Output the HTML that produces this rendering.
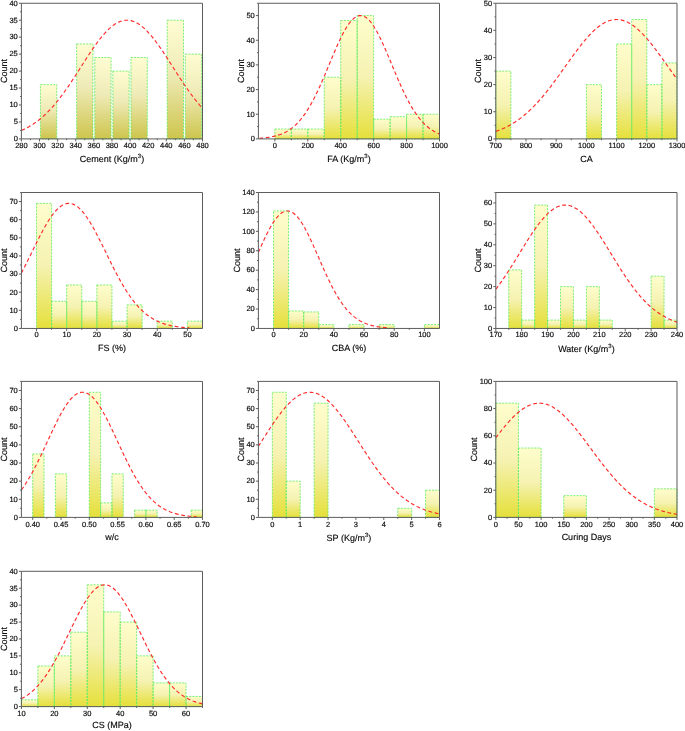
<!DOCTYPE html>
<html><head><meta charset="utf-8"><style>
html,body{margin:0;padding:0;background:#fff;}
svg{display:block;text-rendering:geometricPrecision;will-change:transform;}
.t{font-family:"Liberation Sans",sans-serif;font-size:7.5px;fill:#000000;stroke:#222;stroke-width:0.18px;}
.ti{font-family:"Liberation Sans",sans-serif;font-size:9.0px;fill:#000000;stroke:#222;stroke-width:0.15px;}
</style></head><body>
<svg width="685" height="731" viewBox="0 0 685 731">
<defs><linearGradient id="gy" x1="0" y1="0" x2="0" y2="1">
<stop offset="0" stop-color="#fffdcc"/><stop offset="0.5" stop-color="#f5f2b2"/><stop offset="1" stop-color="#e5e03a"/></linearGradient><linearGradient id="go" x1="0" y1="0" x2="0" y2="1">
<stop offset="0" stop-color="#fffdd2"/><stop offset="0.45" stop-color="#efebb8"/><stop offset="1" stop-color="#cdc54c"/></linearGradient></defs>
<rect width="685" height="731" fill="#fff"/>
<g><rect x="40.42" y="84.64" width="16.30" height="54.26" fill="url(#go)"/><rect x="76.64" y="43.95" width="16.30" height="94.95" fill="url(#go)"/><rect x="94.75" y="57.51" width="16.30" height="81.39" fill="url(#go)"/><rect x="112.86" y="71.08" width="16.30" height="67.83" fill="url(#go)"/><rect x="130.97" y="57.51" width="16.30" height="81.39" fill="url(#go)"/><rect x="167.19" y="20.21" width="16.30" height="118.69" fill="url(#go)"/><rect x="185.30" y="54.12" width="16.30" height="84.78" fill="url(#go)"/><rect x="40.42" y="84.64" width="16.30" height="54.26" fill="none" stroke="#5aec5a" stroke-width="0.8" stroke-dasharray="2 1.2"/><rect x="76.64" y="43.95" width="16.30" height="94.95" fill="none" stroke="#5aec5a" stroke-width="0.8" stroke-dasharray="2 1.2"/><rect x="94.75" y="57.51" width="16.30" height="81.39" fill="none" stroke="#5aec5a" stroke-width="0.8" stroke-dasharray="2 1.2"/><rect x="112.86" y="71.08" width="16.30" height="67.83" fill="none" stroke="#5aec5a" stroke-width="0.8" stroke-dasharray="2 1.2"/><rect x="130.97" y="57.51" width="16.30" height="81.39" fill="none" stroke="#5aec5a" stroke-width="0.8" stroke-dasharray="2 1.2"/><rect x="167.19" y="20.21" width="16.30" height="118.69" fill="none" stroke="#5aec5a" stroke-width="0.8" stroke-dasharray="2 1.2"/><rect x="185.30" y="54.12" width="16.30" height="84.78" fill="none" stroke="#5aec5a" stroke-width="0.8" stroke-dasharray="2 1.2"/><polyline points="21.40,130.43 22.31,130.04 23.21,129.63 24.12,129.21 25.02,128.78 25.93,128.33 26.83,127.86 27.74,127.38 28.64,126.88 29.55,126.36 30.45,125.83 31.36,125.28 32.27,124.71 33.17,124.13 34.08,123.52 34.98,122.90 35.89,122.26 36.79,121.60 37.70,120.92 38.60,120.22 39.51,119.50 40.42,118.76 41.32,118.01 42.23,117.23 43.13,116.43 44.04,115.61 44.94,114.77 45.85,113.91 46.75,113.03 47.66,112.13 48.56,111.21 49.47,110.27 50.38,109.30 51.28,108.32 52.19,107.32 53.09,106.29 54.00,105.25 54.90,104.19 55.81,103.10 56.71,102.00 57.62,100.88 58.53,99.74 59.43,98.58 60.34,97.40 61.24,96.20 62.15,94.99 63.05,93.76 63.96,92.51 64.86,91.25 65.77,89.98 66.67,88.68 67.58,87.38 68.49,86.06 69.39,84.73 70.30,83.38 71.20,82.03 72.11,80.66 73.01,79.28 73.92,77.90 74.82,76.51 75.73,75.11 76.64,73.70 77.54,72.29 78.45,70.88 79.35,69.46 80.26,68.04 81.16,66.62 82.07,65.20 82.97,63.79 83.88,62.37 84.78,60.96 85.69,59.55 86.60,58.15 87.50,56.76 88.41,55.37 89.31,53.99 90.22,52.63 91.12,51.28 92.03,49.94 92.93,48.61 93.84,47.30 94.75,46.01 95.65,44.74 96.56,43.48 97.46,42.25 98.37,41.04 99.27,39.85 100.18,38.69 101.08,37.55 101.99,36.44 102.90,35.36 103.80,34.31 104.71,33.29 105.61,32.30 106.52,31.34 107.42,30.41 108.33,29.52 109.23,28.67 110.14,27.85 111.04,27.07 111.95,26.33 112.86,25.63 113.76,24.96 114.67,24.34 115.57,23.76 116.48,23.22 117.38,22.72 118.29,22.27 119.19,21.86 120.10,21.50 121.00,21.18 121.91,20.90 122.82,20.67 123.72,20.49 124.63,20.35 125.53,20.26 126.44,20.21 127.34,20.21 128.25,20.26 129.15,20.35 130.06,20.49 130.97,20.67 131.87,20.90 132.78,21.18 133.68,21.50 134.59,21.86 135.49,22.27 136.40,22.72 137.30,23.22 138.21,23.76 139.12,24.34 140.02,24.96 140.93,25.63 141.83,26.33 142.74,27.07 143.64,27.85 144.55,28.67 145.45,29.52 146.36,30.41 147.26,31.34 148.17,32.30 149.08,33.29 149.98,34.31 150.89,35.36 151.79,36.44 152.70,37.55 153.60,38.69 154.51,39.85 155.41,41.04 156.32,42.25 157.22,43.48 158.13,44.74 159.04,46.01 159.94,47.30 160.85,48.61 161.75,49.94 162.66,51.28 163.56,52.63 164.47,53.99 165.37,55.37 166.28,56.76 167.19,58.15 168.09,59.55 169.00,60.96 169.90,62.37 170.81,63.79 171.71,65.20 172.62,66.62 173.52,68.04 174.43,69.46 175.34,70.88 176.24,72.29 177.15,73.70 178.05,75.11 178.96,76.51 179.86,77.90 180.77,79.28 181.67,80.66 182.58,82.03 183.48,83.38 184.39,84.73 185.30,86.06 186.20,87.38 187.11,88.68 188.01,89.98 188.92,91.25 189.82,92.51 190.73,93.76 191.63,94.99 192.54,96.20 193.44,97.40 194.35,98.58 195.26,99.74 196.16,100.88 197.07,102.00 197.97,103.10 198.88,104.19 199.78,105.25 200.69,106.29 201.59,107.32 202.50,108.32" fill="none" stroke="#ff2a2a" stroke-width="1.15" stroke-dasharray="3.8 2.6"/><path d="M21.40 3.25H202.50V138.90" fill="none" stroke="#5c5c5c" stroke-width="1"/><path d="M21.40 3.25V138.90H202.50" fill="none" stroke="#5c5c5c" stroke-width="1"/><path d="M21.40 138.90v2.5M39.51 138.90v2.5M57.62 138.90v2.5M75.73 138.90v2.5M93.84 138.90v2.5M111.95 138.90v2.5M130.06 138.90v2.5M148.17 138.90v2.5M166.28 138.90v2.5M184.39 138.90v2.5M202.50 138.90v2.5M30.45 138.90v1.3M48.56 138.90v1.3M66.67 138.90v1.3M84.78 138.90v1.3M102.90 138.90v1.3M121.00 138.90v1.3M139.12 138.90v1.3M157.22 138.90v1.3M175.34 138.90v1.3M193.44 138.90v1.3M21.40 138.90h-2.5M21.40 121.94h-2.5M21.40 104.99h-2.5M21.40 88.03h-2.5M21.40 71.08h-2.5M21.40 54.12h-2.5M21.40 37.16h-2.5M21.40 20.21h-2.5M21.40 3.25h-2.5M21.40 130.42h-1.3M21.40 113.47h-1.3M21.40 96.51h-1.3M21.40 79.55h-1.3M21.40 62.60h-1.3M21.40 45.64h-1.3M21.40 28.68h-1.3M21.40 11.73h-1.3" stroke="#5c5c5c" stroke-width="1"/><text x="21.40" y="147.90" text-anchor="middle" class="t">280</text><text x="39.51" y="147.90" text-anchor="middle" class="t">300</text><text x="57.62" y="147.90" text-anchor="middle" class="t">320</text><text x="75.73" y="147.90" text-anchor="middle" class="t">340</text><text x="93.84" y="147.90" text-anchor="middle" class="t">360</text><text x="111.95" y="147.90" text-anchor="middle" class="t">380</text><text x="130.06" y="147.90" text-anchor="middle" class="t">400</text><text x="148.17" y="147.90" text-anchor="middle" class="t">420</text><text x="166.28" y="147.90" text-anchor="middle" class="t">440</text><text x="184.39" y="147.90" text-anchor="middle" class="t">460</text><text x="202.50" y="147.90" text-anchor="middle" class="t">480</text><text x="17.80" y="141.20" text-anchor="end" class="t">0</text><text x="17.80" y="124.24" text-anchor="end" class="t">5</text><text x="17.80" y="107.29" text-anchor="end" class="t">10</text><text x="17.80" y="90.33" text-anchor="end" class="t">15</text><text x="17.80" y="73.38" text-anchor="end" class="t">20</text><text x="17.80" y="56.42" text-anchor="end" class="t">25</text><text x="17.80" y="39.46" text-anchor="end" class="t">30</text><text x="17.80" y="22.51" text-anchor="end" class="t">35</text><text x="17.80" y="5.55" text-anchor="end" class="t">40</text><text x="6.70" y="71.08" text-anchor="middle" class="ti" transform="rotate(-90 6.70 71.08)">Count</text><text x="111.95" y="162.40" text-anchor="middle" class="ti">Cement (Kg/m<tspan font-size="6" dy="-4.0">3</tspan><tspan dy="4.0">)</tspan></text></g>
<g><rect x="274.86" y="129.03" width="16.46" height="9.87" fill="url(#gy)"/><rect x="291.33" y="129.03" width="16.46" height="9.87" fill="url(#gy)"/><rect x="307.79" y="129.03" width="16.46" height="9.87" fill="url(#gy)"/><rect x="324.25" y="77.24" width="16.46" height="61.66" fill="url(#gy)"/><rect x="340.72" y="20.51" width="16.46" height="118.39" fill="url(#gy)"/><rect x="357.18" y="15.58" width="16.46" height="123.32" fill="url(#gy)"/><rect x="373.65" y="119.17" width="16.46" height="19.73" fill="url(#gy)"/><rect x="390.11" y="116.70" width="16.46" height="22.20" fill="url(#gy)"/><rect x="406.57" y="114.24" width="16.46" height="24.66" fill="url(#gy)"/><rect x="423.04" y="114.24" width="16.46" height="24.66" fill="url(#gy)"/><rect x="274.86" y="129.03" width="16.46" height="9.87" fill="none" stroke="#5aec5a" stroke-width="0.8" stroke-dasharray="2 1.2"/><rect x="291.33" y="129.03" width="16.46" height="9.87" fill="none" stroke="#5aec5a" stroke-width="0.8" stroke-dasharray="2 1.2"/><rect x="307.79" y="129.03" width="16.46" height="9.87" fill="none" stroke="#5aec5a" stroke-width="0.8" stroke-dasharray="2 1.2"/><rect x="324.25" y="77.24" width="16.46" height="61.66" fill="none" stroke="#5aec5a" stroke-width="0.8" stroke-dasharray="2 1.2"/><rect x="340.72" y="20.51" width="16.46" height="118.39" fill="none" stroke="#5aec5a" stroke-width="0.8" stroke-dasharray="2 1.2"/><rect x="357.18" y="15.58" width="16.46" height="123.32" fill="none" stroke="#5aec5a" stroke-width="0.8" stroke-dasharray="2 1.2"/><rect x="373.65" y="119.17" width="16.46" height="19.73" fill="none" stroke="#5aec5a" stroke-width="0.8" stroke-dasharray="2 1.2"/><rect x="390.11" y="116.70" width="16.46" height="22.20" fill="none" stroke="#5aec5a" stroke-width="0.8" stroke-dasharray="2 1.2"/><rect x="406.57" y="114.24" width="16.46" height="24.66" fill="none" stroke="#5aec5a" stroke-width="0.8" stroke-dasharray="2 1.2"/><rect x="423.04" y="114.24" width="16.46" height="24.66" fill="none" stroke="#5aec5a" stroke-width="0.8" stroke-dasharray="2 1.2"/><polyline points="259.35,138.27 260.25,138.21 261.15,138.14 262.05,138.07 262.95,137.99 263.85,137.91 264.75,137.81 265.65,137.71 266.55,137.60 267.45,137.49 268.35,137.36 269.26,137.22 270.16,137.07 271.06,136.91 271.96,136.74 272.86,136.56 273.76,136.36 274.66,136.15 275.56,135.92 276.46,135.68 277.36,135.42 278.26,135.14 279.16,134.84 280.06,134.53 280.97,134.19 281.87,133.83 282.77,133.45 283.67,133.04 284.57,132.61 285.47,132.15 286.37,131.67 287.27,131.15 288.17,130.61 289.07,130.04 289.97,129.43 290.87,128.79 291.77,128.12 292.68,127.42 293.58,126.67 294.48,125.89 295.38,125.08 296.28,124.22 297.18,123.32 298.08,122.38 298.98,121.40 299.88,120.38 300.78,119.32 301.68,118.21 302.58,117.05 303.48,115.85 304.38,114.61 305.29,113.32 306.19,111.98 307.09,110.60 307.99,109.17 308.89,107.70 309.79,106.18 310.69,104.61 311.59,103.00 312.49,101.34 313.39,99.65 314.29,97.91 315.19,96.12 316.09,94.30 317.00,92.44 317.90,90.54 318.80,88.61 319.70,86.65 320.60,84.65 321.50,82.62 322.40,80.57 323.30,78.49 324.20,76.39 325.10,74.27 326.00,72.14 326.90,69.99 327.80,67.83 328.71,65.67 329.61,63.51 330.51,61.34 331.41,59.18 332.31,57.03 333.21,54.89 334.11,52.77 335.01,50.67 335.91,48.59 336.81,46.55 337.71,44.53 338.61,42.55 339.51,40.61 340.42,38.72 341.32,36.87 342.22,35.08 343.12,33.35 344.02,31.68 344.92,30.07 345.82,28.53 346.72,27.06 347.62,25.67 348.52,24.35 349.42,23.12 350.32,21.97 351.22,20.91 352.13,19.94 353.03,19.06 353.93,18.28 354.83,17.60 355.73,17.01 356.63,16.52 357.53,16.13 358.43,15.85 359.33,15.66 360.23,15.59 361.13,15.61 362.03,15.74 362.93,15.97 363.84,16.30 364.74,16.73 365.64,17.27 366.54,17.90 367.44,18.63 368.34,19.46 369.24,20.38 370.14,21.39 371.04,22.49 371.94,23.68 372.84,24.95 373.74,26.30 374.64,27.73 375.55,29.23 376.45,30.80 377.35,32.44 378.25,34.14 379.15,35.90 380.05,37.72 380.95,39.59 381.85,41.50 382.75,43.46 383.65,45.46 384.55,47.49 385.45,49.55 386.35,51.64 387.26,53.75 388.16,55.88 389.06,58.03 389.96,60.18 390.86,62.34 391.76,64.51 392.66,66.67 393.56,68.83 394.46,70.99 395.36,73.13 396.26,75.25 397.16,77.36 398.06,79.45 398.97,81.52 399.87,83.56 400.77,85.58 401.67,87.56 402.57,89.51 403.47,91.43 404.37,93.31 405.27,95.15 406.17,96.95 407.07,98.72 407.97,100.44 408.87,102.12 409.77,103.75 410.68,105.34 411.58,106.88 412.48,108.38 413.38,109.84 414.28,111.24 415.18,112.61 416.08,113.92 416.98,115.19 417.88,116.41 418.78,117.59 419.68,118.73 420.58,119.81 421.48,120.86 422.39,121.86 423.29,122.82 424.19,123.74 425.09,124.62 425.99,125.46 426.89,126.26 427.79,127.02 428.69,127.75 429.59,128.44 430.49,129.09 431.39,129.72 432.29,130.31 433.19,130.86 434.10,131.39 435.00,131.89 435.90,132.37 436.80,132.81 437.70,133.23 438.60,133.63 439.50,134.00" fill="none" stroke="#ff2a2a" stroke-width="1.15" stroke-dasharray="3.8 2.6"/><path d="M258.40 3.25H439.50V138.90" fill="none" stroke="#5c5c5c" stroke-width="1"/><path d="M258.40 3.25V138.90H439.50" fill="none" stroke="#5c5c5c" stroke-width="1"/><path d="M274.86 138.90v2.5M307.79 138.90v2.5M340.72 138.90v2.5M373.65 138.90v2.5M406.57 138.90v2.5M439.50 138.90v2.5M291.33 138.90v1.3M324.25 138.90v1.3M357.18 138.90v1.3M390.11 138.90v1.3M423.04 138.90v1.3M258.40 138.90h-2.5M258.40 114.24h-2.5M258.40 89.57h-2.5M258.40 64.91h-2.5M258.40 40.25h-2.5M258.40 15.58h-2.5M258.40 126.57h-1.3M258.40 101.90h-1.3M258.40 77.24h-1.3M258.40 52.58h-1.3M258.40 27.91h-1.3M258.40 3.25h-1.3" stroke="#5c5c5c" stroke-width="1"/><text x="274.86" y="147.90" text-anchor="middle" class="t">0</text><text x="307.79" y="147.90" text-anchor="middle" class="t">200</text><text x="340.72" y="147.90" text-anchor="middle" class="t">400</text><text x="373.65" y="147.90" text-anchor="middle" class="t">600</text><text x="406.57" y="147.90" text-anchor="middle" class="t">800</text><text x="439.50" y="147.90" text-anchor="middle" class="t">1000</text><text x="254.80" y="141.20" text-anchor="end" class="t">0</text><text x="254.80" y="116.54" text-anchor="end" class="t">10</text><text x="254.80" y="91.87" text-anchor="end" class="t">20</text><text x="254.80" y="67.21" text-anchor="end" class="t">30</text><text x="254.80" y="42.55" text-anchor="end" class="t">40</text><text x="254.80" y="17.88" text-anchor="end" class="t">50</text><text x="243.70" y="71.08" text-anchor="middle" class="ti" transform="rotate(-90 243.70 71.08)">Count</text><text x="348.95" y="162.40" text-anchor="middle" class="ti">FA (Kg/m<tspan font-size="6" dy="-4.0">3</tspan><tspan dy="4.0">)</tspan></text></g>
<g><rect x="495.80" y="71.08" width="15.10" height="67.83" fill="url(#gy)"/><rect x="586.40" y="84.64" width="15.10" height="54.26" fill="url(#gy)"/><rect x="616.60" y="43.95" width="15.10" height="94.95" fill="url(#gy)"/><rect x="631.70" y="19.53" width="15.10" height="119.37" fill="url(#gy)"/><rect x="646.80" y="84.64" width="15.10" height="54.26" fill="url(#gy)"/><rect x="661.90" y="62.94" width="15.10" height="75.96" fill="url(#gy)"/><rect x="495.80" y="71.08" width="15.10" height="67.83" fill="none" stroke="#5aec5a" stroke-width="0.8" stroke-dasharray="2 1.2"/><rect x="586.40" y="84.64" width="15.10" height="54.26" fill="none" stroke="#5aec5a" stroke-width="0.8" stroke-dasharray="2 1.2"/><rect x="616.60" y="43.95" width="15.10" height="94.95" fill="none" stroke="#5aec5a" stroke-width="0.8" stroke-dasharray="2 1.2"/><rect x="631.70" y="19.53" width="15.10" height="119.37" fill="none" stroke="#5aec5a" stroke-width="0.8" stroke-dasharray="2 1.2"/><rect x="646.80" y="84.64" width="15.10" height="54.26" fill="none" stroke="#5aec5a" stroke-width="0.8" stroke-dasharray="2 1.2"/><rect x="661.90" y="62.94" width="15.10" height="75.96" fill="none" stroke="#5aec5a" stroke-width="0.8" stroke-dasharray="2 1.2"/><polyline points="495.80,131.41 496.71,131.09 497.61,130.76 498.52,130.42 499.42,130.07 500.33,129.71 501.24,129.34 502.14,128.95 503.05,128.56 503.95,128.15 504.86,127.72 505.77,127.29 506.67,126.84 507.58,126.38 508.48,125.90 509.39,125.41 510.30,124.91 511.20,124.39 512.11,123.86 513.01,123.31 513.92,122.74 514.83,122.17 515.73,121.57 516.64,120.97 517.54,120.34 518.45,119.70 519.36,119.05 520.26,118.37 521.17,117.69 522.07,116.98 522.98,116.26 523.89,115.53 524.79,114.77 525.70,114.00 526.60,113.22 527.51,112.41 528.42,111.59 529.32,110.76 530.23,109.91 531.13,109.04 532.04,108.15 532.95,107.25 533.85,106.33 534.76,105.40 535.66,104.45 536.57,103.48 537.48,102.50 538.38,101.50 539.29,100.49 540.19,99.46 541.10,98.42 542.01,97.36 542.91,96.28 543.82,95.20 544.72,94.10 545.63,92.98 546.54,91.86 547.44,90.72 548.35,89.57 549.25,88.40 550.16,87.23 551.07,86.04 551.97,84.85 552.88,83.64 553.78,82.43 554.69,81.21 555.60,79.97 556.50,78.73 557.41,77.49 558.31,76.24 559.22,74.98 560.13,73.71 561.03,72.45 561.94,71.18 562.84,69.90 563.75,68.63 564.66,67.35 565.56,66.07 566.47,64.79 567.37,63.52 568.28,62.24 569.19,60.97 570.09,59.70 571.00,58.44 571.90,57.18 572.81,55.93 573.72,54.68 574.62,53.45 575.53,52.22 576.43,51.00 577.34,49.79 578.25,48.59 579.15,47.41 580.06,46.24 580.96,45.08 581.87,43.94 582.78,42.82 583.68,41.71 584.59,40.62 585.49,39.55 586.40,38.49 587.31,37.46 588.21,36.45 589.12,35.46 590.02,34.50 590.93,33.55 591.84,32.64 592.74,31.75 593.65,30.88 594.55,30.04 595.46,29.23 596.37,28.45 597.27,27.69 598.18,26.97 599.08,26.28 599.99,25.61 600.90,24.98 601.80,24.39 602.71,23.82 603.61,23.29 604.52,22.79 605.43,22.32 606.33,21.89 607.24,21.50 608.14,21.14 609.05,20.81 609.96,20.52 610.86,20.27 611.77,20.06 612.67,19.88 613.58,19.73 614.49,19.63 615.39,19.56 616.30,19.53 617.20,19.54 618.11,19.58 619.02,19.66 619.92,19.78 620.83,19.93 621.73,20.12 622.64,20.35 623.55,20.62 624.45,20.92 625.36,21.25 626.26,21.62 627.17,22.03 628.08,22.47 628.98,22.95 629.89,23.46 630.79,24.00 631.70,24.58 632.61,25.19 633.51,25.83 634.42,26.50 635.32,27.21 636.23,27.94 637.14,28.71 638.04,29.50 638.95,30.32 639.85,31.17 640.76,32.04 641.67,32.94 642.57,33.87 643.48,34.82 644.38,35.79 645.29,36.78 646.20,37.80 647.10,38.84 648.01,39.90 648.91,40.98 649.82,42.08 650.73,43.19 651.63,44.32 652.54,45.47 653.44,46.63 654.35,47.80 655.26,48.99 656.16,50.19 657.07,51.40 657.97,52.63 658.88,53.86 659.79,55.10 660.69,56.35 661.60,57.60 662.50,58.86 663.41,60.13 664.32,61.40 665.22,62.67 666.13,63.94 667.03,65.22 667.94,66.50 668.85,67.77 669.75,69.05 670.66,70.33 671.56,71.60 672.47,72.87 673.38,74.14 674.28,75.40 675.19,76.65 676.09,77.90 677.00,79.15" fill="none" stroke="#ff2a2a" stroke-width="1.15" stroke-dasharray="3.8 2.6"/><path d="M495.80 3.25H677.00V138.90" fill="none" stroke="#5c5c5c" stroke-width="1"/><path d="M495.80 3.25V138.90H677.00" fill="none" stroke="#5c5c5c" stroke-width="1"/><path d="M495.80 138.90v2.5M526.00 138.90v2.5M556.20 138.90v2.5M586.40 138.90v2.5M616.60 138.90v2.5M646.80 138.90v2.5M677.00 138.90v2.5M510.90 138.90v1.3M541.10 138.90v1.3M571.30 138.90v1.3M601.50 138.90v1.3M631.70 138.90v1.3M661.90 138.90v1.3M495.80 138.90h-2.5M495.80 111.77h-2.5M495.80 84.64h-2.5M495.80 57.51h-2.5M495.80 30.38h-2.5M495.80 3.25h-2.5M495.80 125.34h-1.3M495.80 98.21h-1.3M495.80 71.08h-1.3M495.80 43.95h-1.3M495.80 16.81h-1.3" stroke="#5c5c5c" stroke-width="1"/><text x="495.80" y="147.90" text-anchor="middle" class="t">700</text><text x="526.00" y="147.90" text-anchor="middle" class="t">800</text><text x="556.20" y="147.90" text-anchor="middle" class="t">900</text><text x="586.40" y="147.90" text-anchor="middle" class="t">1000</text><text x="616.60" y="147.90" text-anchor="middle" class="t">1100</text><text x="646.80" y="147.90" text-anchor="middle" class="t">1200</text><text x="677.00" y="147.90" text-anchor="middle" class="t">1300</text><text x="492.20" y="141.20" text-anchor="end" class="t">0</text><text x="492.20" y="114.07" text-anchor="end" class="t">10</text><text x="492.20" y="86.94" text-anchor="end" class="t">20</text><text x="492.20" y="59.81" text-anchor="end" class="t">30</text><text x="492.20" y="32.68" text-anchor="end" class="t">40</text><text x="492.20" y="5.55" text-anchor="end" class="t">50</text><text x="481.10" y="71.08" text-anchor="middle" class="ti" transform="rotate(-90 481.10 71.08)">Count</text><text x="586.40" y="161.60" text-anchor="middle" class="ti">CA</text></g>
<g><rect x="36.49" y="203.38" width="15.09" height="125.07" fill="url(#gy)"/><rect x="51.58" y="301.26" width="15.09" height="27.19" fill="url(#gy)"/><rect x="66.67" y="284.95" width="15.09" height="43.50" fill="url(#gy)"/><rect x="81.77" y="301.26" width="15.09" height="27.19" fill="url(#gy)"/><rect x="96.86" y="284.95" width="15.09" height="43.50" fill="url(#gy)"/><rect x="111.95" y="321.20" width="15.09" height="7.25" fill="url(#gy)"/><rect x="127.04" y="304.89" width="15.09" height="23.56" fill="url(#gy)"/><rect x="157.22" y="321.20" width="15.09" height="7.25" fill="url(#gy)"/><rect x="187.41" y="321.20" width="15.09" height="7.25" fill="url(#gy)"/><rect x="36.49" y="203.38" width="15.09" height="125.07" fill="none" stroke="#5aec5a" stroke-width="0.8" stroke-dasharray="2 1.2"/><rect x="51.58" y="301.26" width="15.09" height="27.19" fill="none" stroke="#5aec5a" stroke-width="0.8" stroke-dasharray="2 1.2"/><rect x="66.67" y="284.95" width="15.09" height="43.50" fill="none" stroke="#5aec5a" stroke-width="0.8" stroke-dasharray="2 1.2"/><rect x="81.77" y="301.26" width="15.09" height="27.19" fill="none" stroke="#5aec5a" stroke-width="0.8" stroke-dasharray="2 1.2"/><rect x="96.86" y="284.95" width="15.09" height="43.50" fill="none" stroke="#5aec5a" stroke-width="0.8" stroke-dasharray="2 1.2"/><rect x="111.95" y="321.20" width="15.09" height="7.25" fill="none" stroke="#5aec5a" stroke-width="0.8" stroke-dasharray="2 1.2"/><rect x="127.04" y="304.89" width="15.09" height="23.56" fill="none" stroke="#5aec5a" stroke-width="0.8" stroke-dasharray="2 1.2"/><rect x="157.22" y="321.20" width="15.09" height="7.25" fill="none" stroke="#5aec5a" stroke-width="0.8" stroke-dasharray="2 1.2"/><rect x="187.41" y="321.20" width="15.09" height="7.25" fill="none" stroke="#5aec5a" stroke-width="0.8" stroke-dasharray="2 1.2"/><polyline points="21.40,273.07 22.24,271.46 23.08,269.83 23.92,268.19 24.76,266.54 25.60,264.87 26.44,263.19 27.28,261.50 28.12,259.80 28.96,258.10 29.80,256.39 30.64,254.67 31.48,252.96 32.32,251.24 33.16,249.52 34.00,247.81 34.84,246.10 35.68,244.40 36.52,242.71 37.36,241.03 38.20,239.36 39.04,237.71 39.89,236.07 40.73,234.46 41.57,232.86 42.41,231.28 43.25,229.73 44.09,228.21 44.93,226.72 45.77,225.25 46.61,223.82 47.45,222.42 48.29,221.06 49.13,219.74 49.97,218.46 50.81,217.22 51.65,216.02 52.49,214.87 53.33,213.76 54.17,212.71 55.01,211.70 55.85,210.75 56.69,209.84 57.53,209.00 58.37,208.20 59.21,207.47 60.05,206.79 60.89,206.17 61.73,205.62 62.57,205.12 63.41,204.68 64.25,204.31 65.09,203.99 65.93,203.75 66.77,203.56 67.61,203.44 68.45,203.38 69.29,203.39 70.13,203.46 70.97,203.59 71.81,203.79 72.65,204.05 73.49,204.38 74.33,204.76 75.17,205.21 76.01,205.72 76.86,206.29 77.70,206.92 78.54,207.61 79.38,208.36 80.22,209.16 81.06,210.02 81.90,210.93 82.74,211.90 83.58,212.92 84.42,213.98 85.26,215.10 86.10,216.26 86.94,217.46 87.78,218.71 88.62,220.00 89.46,221.33 90.30,222.70 91.14,224.11 91.98,225.55 92.82,227.02 93.66,228.52 94.50,230.05 95.34,231.60 96.18,233.18 97.02,234.78 97.86,236.40 98.70,238.04 99.54,239.70 100.38,241.37 101.22,243.05 102.06,244.75 102.90,246.45 103.74,248.16 104.58,249.87 105.42,251.59 106.26,253.30 107.10,255.02 107.94,256.73 108.78,258.44 109.62,260.15 110.46,261.84 111.30,263.53 112.14,265.21 112.98,266.87 113.83,268.53 114.67,270.16 115.51,271.79 116.35,273.39 117.19,274.98 118.03,276.55 118.87,278.09 119.71,279.62 120.55,281.12 121.39,282.61 122.23,284.06 123.07,285.50 123.91,286.91 124.75,288.29 125.59,289.65 126.43,290.98 127.27,292.28 128.11,293.56 128.95,294.80 129.79,296.02 130.63,297.21 131.47,298.38 132.31,299.51 133.15,300.62 133.99,301.70 134.83,302.75 135.67,303.77 136.51,304.76 137.35,305.72 138.19,306.66 139.03,307.57 139.87,308.45 140.71,309.30 141.55,310.13 142.39,310.93 143.23,311.70 144.07,312.45 144.91,313.17 145.75,313.87 146.59,314.54 147.43,315.19 148.27,315.81 149.11,316.41 149.95,316.99 150.80,317.54 151.64,318.08 152.48,318.59 153.32,319.09 154.16,319.56 155.00,320.01 155.84,320.45 156.68,320.86 157.52,321.26 158.36,321.64 159.20,322.00 160.04,322.35 160.88,322.68 161.72,323.00 162.56,323.30 163.40,323.59 164.24,323.86 165.08,324.12 165.92,324.37 166.76,324.60 167.60,324.83 168.44,325.04 169.28,325.24 170.12,325.43 170.96,325.62 171.80,325.79 172.64,325.95 173.48,326.10 174.32,326.25 175.16,326.39 176.00,326.52 176.84,326.64 177.68,326.76 178.52,326.87 179.36,326.97 180.20,327.06 181.04,327.16 181.88,327.24 182.72,327.32 183.56,327.40 184.40,327.47 185.24,327.54 186.08,327.60 186.93,327.66 187.77,327.71 188.61,327.77 189.45,327.81" fill="none" stroke="#ff2a2a" stroke-width="1.15" stroke-dasharray="3.8 2.6"/><path d="M21.40 192.50H202.50V328.45" fill="none" stroke="#5c5c5c" stroke-width="1"/><path d="M21.40 192.50V328.45H202.50" fill="none" stroke="#5c5c5c" stroke-width="1"/><path d="M36.49 328.45v2.5M66.67 328.45v2.5M96.86 328.45v2.5M127.04 328.45v2.5M157.22 328.45v2.5M187.41 328.45v2.5M51.58 328.45v1.3M81.77 328.45v1.3M111.95 328.45v1.3M142.13 328.45v1.3M172.32 328.45v1.3M21.40 328.45h-2.5M21.40 310.32h-2.5M21.40 292.20h-2.5M21.40 274.07h-2.5M21.40 255.94h-2.5M21.40 237.82h-2.5M21.40 219.69h-2.5M21.40 201.56h-2.5M21.40 319.39h-1.3M21.40 301.26h-1.3M21.40 283.13h-1.3M21.40 265.01h-1.3M21.40 246.88h-1.3M21.40 228.75h-1.3M21.40 210.63h-1.3M21.40 192.50h-1.3" stroke="#5c5c5c" stroke-width="1"/><text x="36.49" y="337.45" text-anchor="middle" class="t">0</text><text x="66.67" y="337.45" text-anchor="middle" class="t">10</text><text x="96.86" y="337.45" text-anchor="middle" class="t">20</text><text x="127.04" y="337.45" text-anchor="middle" class="t">30</text><text x="157.22" y="337.45" text-anchor="middle" class="t">40</text><text x="187.41" y="337.45" text-anchor="middle" class="t">50</text><text x="17.80" y="330.75" text-anchor="end" class="t">0</text><text x="17.80" y="312.62" text-anchor="end" class="t">10</text><text x="17.80" y="294.50" text-anchor="end" class="t">20</text><text x="17.80" y="276.37" text-anchor="end" class="t">30</text><text x="17.80" y="258.24" text-anchor="end" class="t">40</text><text x="17.80" y="240.12" text-anchor="end" class="t">50</text><text x="17.80" y="221.99" text-anchor="end" class="t">60</text><text x="17.80" y="203.86" text-anchor="end" class="t">70</text><text x="6.70" y="260.48" text-anchor="middle" class="ti" transform="rotate(-90 6.70 260.48)">Count</text><text x="111.95" y="350.85" text-anchor="middle" class="ti">FS (%)</text></g>
<g><rect x="273.49" y="210.95" width="15.09" height="117.50" fill="url(#gy)"/><rect x="288.58" y="310.97" width="15.09" height="17.48" fill="url(#gy)"/><rect x="303.67" y="311.94" width="15.09" height="16.51" fill="url(#gy)"/><rect x="318.77" y="324.57" width="15.09" height="3.88" fill="url(#gy)"/><rect x="348.95" y="324.57" width="15.09" height="3.88" fill="url(#gy)"/><rect x="379.13" y="324.57" width="15.09" height="3.88" fill="url(#gy)"/><rect x="424.41" y="324.57" width="15.09" height="3.88" fill="url(#gy)"/><rect x="273.49" y="210.95" width="15.09" height="117.50" fill="none" stroke="#5aec5a" stroke-width="0.8" stroke-dasharray="2 1.2"/><rect x="288.58" y="310.97" width="15.09" height="17.48" fill="none" stroke="#5aec5a" stroke-width="0.8" stroke-dasharray="2 1.2"/><rect x="303.67" y="311.94" width="15.09" height="16.51" fill="none" stroke="#5aec5a" stroke-width="0.8" stroke-dasharray="2 1.2"/><rect x="318.77" y="324.57" width="15.09" height="3.88" fill="none" stroke="#5aec5a" stroke-width="0.8" stroke-dasharray="2 1.2"/><rect x="348.95" y="324.57" width="15.09" height="3.88" fill="none" stroke="#5aec5a" stroke-width="0.8" stroke-dasharray="2 1.2"/><rect x="379.13" y="324.57" width="15.09" height="3.88" fill="none" stroke="#5aec5a" stroke-width="0.8" stroke-dasharray="2 1.2"/><rect x="424.41" y="324.57" width="15.09" height="3.88" fill="none" stroke="#5aec5a" stroke-width="0.8" stroke-dasharray="2 1.2"/><polyline points="258.40,252.35 259.05,250.87 259.70,249.39 260.35,247.92 261.00,246.46 261.65,245.02 262.30,243.58 262.95,242.15 263.60,240.74 264.25,239.35 264.90,237.97 265.55,236.61 266.20,235.28 266.85,233.96 267.50,232.67 268.15,231.40 268.80,230.16 269.45,228.94 270.10,227.76 270.75,226.60 271.40,225.48 272.05,224.39 272.70,223.34 273.35,222.32 274.00,221.34 274.65,220.39 275.30,219.49 275.95,218.62 276.60,217.80 277.25,217.02 277.90,216.28 278.55,215.59 279.20,214.94 279.85,214.34 280.50,213.79 281.15,213.28 281.80,212.82 282.45,212.41 283.10,212.06 283.75,211.75 284.40,211.49 285.05,211.28 285.70,211.12 286.35,211.01 287.00,210.96 287.65,210.96 288.30,211.00 288.95,211.10 289.60,211.25 290.25,211.45 290.90,211.70 291.55,212.01 292.20,212.36 292.85,212.76 293.50,213.21 294.15,213.71 294.80,214.26 295.45,214.85 296.10,215.49 296.75,216.18 297.40,216.91 298.05,217.68 298.70,218.50 299.35,219.36 300.00,220.26 300.65,221.19 301.30,222.17 301.95,223.19 302.61,224.23 303.26,225.32 303.91,226.44 304.56,227.59 305.21,228.77 305.86,229.98 306.51,231.22 307.16,232.48 307.81,233.77 308.46,235.08 309.11,236.42 309.76,237.77 310.41,239.14 311.06,240.54 311.71,241.94 312.36,243.37 313.01,244.80 313.66,246.25 314.31,247.71 314.96,249.18 315.61,250.65 316.26,252.13 316.91,253.61 317.56,255.10 318.21,256.59 318.86,258.08 319.51,259.57 320.16,261.06 320.81,262.54 321.46,264.02 322.11,265.50 322.76,266.96 323.41,268.42 324.06,269.87 324.71,271.31 325.36,272.74 326.01,274.16 326.66,275.56 327.31,276.95 327.96,278.33 328.61,279.69 329.26,281.03 329.91,282.36 330.56,283.67 331.21,284.96 331.86,286.23 332.51,287.49 333.16,288.72 333.81,289.93 334.46,291.13 335.11,292.30 335.76,293.45 336.41,294.57 337.06,295.68 337.71,296.76 338.36,297.83 339.01,298.87 339.66,299.88 340.31,300.87 340.96,301.84 341.61,302.79 342.26,303.72 342.91,304.62 343.56,305.50 344.21,306.35 344.86,307.19 345.51,308.00 346.16,308.79 346.81,309.55 347.46,310.30 348.11,311.02 348.76,311.72 349.41,312.40 350.06,313.06 350.71,313.70 351.36,314.32 352.01,314.92 352.66,315.49 353.31,316.05 353.96,316.59 354.61,317.12 355.26,317.62 355.91,318.10 356.56,318.57 357.21,319.02 357.86,319.46 358.51,319.88 359.16,320.28 359.81,320.67 360.46,321.04 361.11,321.39 361.76,321.74 362.41,322.07 363.06,322.38 363.71,322.68 364.36,322.97 365.01,323.25 365.66,323.52 366.31,323.77 366.96,324.01 367.61,324.25 368.26,324.47 368.91,324.68 369.56,324.88 370.21,325.07 370.86,325.26 371.51,325.43 372.16,325.60 372.81,325.76 373.46,325.91 374.11,326.05 374.76,326.19 375.41,326.32 376.06,326.44 376.71,326.56 377.36,326.67 378.01,326.77 378.66,326.87 379.31,326.97 379.96,327.06 380.61,327.14 381.26,327.22 381.91,327.30 382.56,327.37 383.21,327.44 383.86,327.50 384.51,327.56 385.16,327.62 385.81,327.67 386.46,327.72 387.11,327.77 387.76,327.81 388.41,327.85" fill="none" stroke="#ff2a2a" stroke-width="1.15" stroke-dasharray="3.8 2.6"/><path d="M258.40 192.50H439.50V328.45" fill="none" stroke="#5c5c5c" stroke-width="1"/><path d="M258.40 192.50V328.45H439.50" fill="none" stroke="#5c5c5c" stroke-width="1"/><path d="M273.49 328.45v2.5M303.67 328.45v2.5M333.86 328.45v2.5M364.04 328.45v2.5M394.23 328.45v2.5M424.41 328.45v2.5M288.58 328.45v1.3M318.77 328.45v1.3M348.95 328.45v1.3M379.13 328.45v1.3M409.32 328.45v1.3M258.40 328.45h-2.5M258.40 309.03h-2.5M258.40 289.61h-2.5M258.40 270.19h-2.5M258.40 250.76h-2.5M258.40 231.34h-2.5M258.40 211.92h-2.5M258.40 192.50h-2.5M258.40 318.74h-1.3M258.40 299.32h-1.3M258.40 279.90h-1.3M258.40 260.48h-1.3M258.40 241.05h-1.3M258.40 221.63h-1.3M258.40 202.21h-1.3" stroke="#5c5c5c" stroke-width="1"/><text x="273.49" y="337.45" text-anchor="middle" class="t">0</text><text x="303.67" y="337.45" text-anchor="middle" class="t">20</text><text x="333.86" y="337.45" text-anchor="middle" class="t">40</text><text x="364.04" y="337.45" text-anchor="middle" class="t">60</text><text x="394.23" y="337.45" text-anchor="middle" class="t">80</text><text x="424.41" y="337.45" text-anchor="middle" class="t">100</text><text x="254.80" y="330.75" text-anchor="end" class="t">0</text><text x="254.80" y="311.33" text-anchor="end" class="t">20</text><text x="254.80" y="291.91" text-anchor="end" class="t">40</text><text x="254.80" y="272.49" text-anchor="end" class="t">60</text><text x="254.80" y="253.06" text-anchor="end" class="t">80</text><text x="254.80" y="233.64" text-anchor="end" class="t">100</text><text x="254.80" y="214.22" text-anchor="end" class="t">120</text><text x="254.80" y="194.80" text-anchor="end" class="t">140</text><text x="239.80" y="260.48" text-anchor="middle" class="ti" transform="rotate(-90 239.80 260.48)">Count</text><text x="348.95" y="350.75" text-anchor="middle" class="ti">CBA (%)</text></g>
<g><rect x="508.74" y="269.89" width="12.94" height="58.56" fill="url(#gy)"/><rect x="521.69" y="320.08" width="12.94" height="8.37" fill="url(#gy)"/><rect x="534.63" y="205.05" width="12.94" height="123.40" fill="url(#gy)"/><rect x="547.57" y="320.08" width="12.94" height="8.37" fill="url(#gy)"/><rect x="560.51" y="286.62" width="12.94" height="41.83" fill="url(#gy)"/><rect x="573.46" y="320.08" width="12.94" height="8.37" fill="url(#gy)"/><rect x="586.40" y="286.62" width="12.94" height="41.83" fill="url(#gy)"/><rect x="599.34" y="320.08" width="12.94" height="8.37" fill="url(#gy)"/><rect x="651.11" y="276.16" width="12.94" height="52.29" fill="url(#gy)"/><rect x="664.06" y="320.08" width="12.94" height="8.37" fill="url(#gy)"/><rect x="508.74" y="269.89" width="12.94" height="58.56" fill="none" stroke="#5aec5a" stroke-width="0.8" stroke-dasharray="2 1.2"/><rect x="521.69" y="320.08" width="12.94" height="8.37" fill="none" stroke="#5aec5a" stroke-width="0.8" stroke-dasharray="2 1.2"/><rect x="534.63" y="205.05" width="12.94" height="123.40" fill="none" stroke="#5aec5a" stroke-width="0.8" stroke-dasharray="2 1.2"/><rect x="547.57" y="320.08" width="12.94" height="8.37" fill="none" stroke="#5aec5a" stroke-width="0.8" stroke-dasharray="2 1.2"/><rect x="560.51" y="286.62" width="12.94" height="41.83" fill="none" stroke="#5aec5a" stroke-width="0.8" stroke-dasharray="2 1.2"/><rect x="573.46" y="320.08" width="12.94" height="8.37" fill="none" stroke="#5aec5a" stroke-width="0.8" stroke-dasharray="2 1.2"/><rect x="586.40" y="286.62" width="12.94" height="41.83" fill="none" stroke="#5aec5a" stroke-width="0.8" stroke-dasharray="2 1.2"/><rect x="599.34" y="320.08" width="12.94" height="8.37" fill="none" stroke="#5aec5a" stroke-width="0.8" stroke-dasharray="2 1.2"/><rect x="651.11" y="276.16" width="12.94" height="52.29" fill="none" stroke="#5aec5a" stroke-width="0.8" stroke-dasharray="2 1.2"/><rect x="664.06" y="320.08" width="12.94" height="8.37" fill="none" stroke="#5aec5a" stroke-width="0.8" stroke-dasharray="2 1.2"/><polyline points="495.80,289.23 496.71,288.05 497.61,286.84 498.52,285.62 499.42,284.38 500.33,283.12 501.24,281.84 502.14,280.55 503.05,279.24 503.95,277.91 504.86,276.57 505.77,275.21 506.67,273.84 507.58,272.45 508.48,271.05 509.39,269.64 510.30,268.22 511.20,266.79 512.11,265.35 513.01,263.90 513.92,262.44 514.83,260.98 515.73,259.51 516.64,258.04 517.54,256.56 518.45,255.08 519.36,253.60 520.26,252.12 521.17,250.65 522.07,249.17 522.98,247.70 523.89,246.23 524.79,244.77 525.70,243.31 526.60,241.87 527.51,240.43 528.42,239.00 529.32,237.59 530.23,236.19 531.13,234.81 532.04,233.44 532.95,232.09 533.85,230.76 534.76,229.45 535.66,228.16 536.57,226.90 537.48,225.66 538.38,224.44 539.29,223.25 540.19,222.09 541.10,220.96 542.01,219.86 542.91,218.79 543.82,217.75 544.72,216.75 545.63,215.78 546.54,214.85 547.44,213.95 548.35,213.10 549.25,212.28 550.16,211.50 551.07,210.76 551.97,210.07 552.88,209.41 553.78,208.80 554.69,208.24 555.60,207.72 556.50,207.24 557.41,206.81 558.31,206.42 559.22,206.09 560.13,205.80 561.03,205.55 561.94,205.36 562.84,205.21 563.75,205.11 564.66,205.06 565.56,205.05 566.47,205.10 567.37,205.19 568.28,205.33 569.19,205.52 570.09,205.76 571.00,206.04 571.90,206.37 572.81,206.75 573.72,207.18 574.62,207.65 575.53,208.16 576.43,208.72 577.34,209.32 578.25,209.97 579.15,210.66 580.06,211.39 580.96,212.16 581.87,212.98 582.78,213.83 583.68,214.72 584.59,215.64 585.49,216.61 586.40,217.61 587.31,218.64 588.21,219.70 589.12,220.80 590.02,221.93 590.93,223.08 591.84,224.27 592.74,225.48 593.65,226.72 594.55,227.98 595.46,229.27 596.37,230.57 597.27,231.90 598.18,233.25 599.08,234.61 599.99,235.99 600.90,237.39 601.80,238.80 602.71,240.23 603.61,241.66 604.52,243.10 605.43,244.56 606.33,246.02 607.24,247.49 608.14,248.96 609.05,250.43 609.96,251.91 610.86,253.39 611.77,254.87 612.67,256.35 613.58,257.83 614.49,259.30 615.39,260.77 616.30,262.23 617.20,263.69 618.11,265.14 619.02,266.58 619.92,268.02 620.83,269.44 621.73,270.85 622.64,272.25 623.55,273.64 624.45,275.01 625.36,276.37 626.26,277.72 627.17,279.05 628.08,280.36 628.98,281.66 629.89,282.94 630.79,284.20 631.70,285.44 632.61,286.67 633.51,287.88 634.42,289.06 635.32,290.23 636.23,291.38 637.14,292.50 638.04,293.61 638.95,294.70 639.85,295.76 640.76,296.80 641.67,297.82 642.57,298.82 643.48,299.80 644.38,300.76 645.29,301.70 646.20,302.61 647.10,303.50 648.01,304.38 648.91,305.23 649.82,306.05 650.73,306.86 651.63,307.65 652.54,308.41 653.44,309.16 654.35,309.88 655.26,310.59 656.16,311.27 657.07,311.94 657.97,312.58 658.88,313.21 659.79,313.82 660.69,314.40 661.60,314.97 662.50,315.53 663.41,316.06 664.32,316.58 665.22,317.08 666.13,317.56 667.03,318.02 667.94,318.48 668.85,318.91 669.75,319.33 670.66,319.73 671.56,320.12 672.47,320.50 673.38,320.86 674.28,321.21 675.19,321.54 676.09,321.86 677.00,322.17" fill="none" stroke="#ff2a2a" stroke-width="1.15" stroke-dasharray="3.8 2.6"/><path d="M495.80 192.50H677.00V328.45" fill="none" stroke="#5c5c5c" stroke-width="1"/><path d="M495.80 192.50V328.45H677.00" fill="none" stroke="#5c5c5c" stroke-width="1"/><path d="M495.80 328.45v2.5M521.69 328.45v2.5M547.57 328.45v2.5M573.46 328.45v2.5M599.34 328.45v2.5M625.23 328.45v2.5M651.11 328.45v2.5M677.00 328.45v2.5M508.74 328.45v1.3M534.63 328.45v1.3M560.51 328.45v1.3M586.40 328.45v1.3M612.29 328.45v1.3M638.17 328.45v1.3M664.06 328.45v1.3M495.80 328.45h-2.5M495.80 307.53h-2.5M495.80 286.62h-2.5M495.80 265.70h-2.5M495.80 244.79h-2.5M495.80 223.87h-2.5M495.80 202.96h-2.5M495.80 317.99h-1.3M495.80 297.08h-1.3M495.80 276.16h-1.3M495.80 255.25h-1.3M495.80 234.33h-1.3M495.80 213.42h-1.3M495.80 192.50h-1.3" stroke="#5c5c5c" stroke-width="1"/><text x="495.80" y="337.45" text-anchor="middle" class="t">170</text><text x="521.69" y="337.45" text-anchor="middle" class="t">180</text><text x="547.57" y="337.45" text-anchor="middle" class="t">190</text><text x="573.46" y="337.45" text-anchor="middle" class="t">200</text><text x="599.34" y="337.45" text-anchor="middle" class="t">210</text><text x="625.23" y="337.45" text-anchor="middle" class="t">220</text><text x="651.11" y="337.45" text-anchor="middle" class="t">230</text><text x="677.00" y="337.45" text-anchor="middle" class="t">240</text><text x="492.20" y="330.75" text-anchor="end" class="t">0</text><text x="492.20" y="309.83" text-anchor="end" class="t">10</text><text x="492.20" y="288.92" text-anchor="end" class="t">20</text><text x="492.20" y="268.00" text-anchor="end" class="t">30</text><text x="492.20" y="247.09" text-anchor="end" class="t">40</text><text x="492.20" y="226.17" text-anchor="end" class="t">50</text><text x="492.20" y="205.26" text-anchor="end" class="t">60</text><text x="481.10" y="260.48" text-anchor="middle" class="ti" transform="rotate(-90 481.10 260.48)">Count</text><text x="586.40" y="351.55" text-anchor="middle" class="ti">Water (Kg/m<tspan font-size="6" dy="-4.0">3</tspan><tspan dy="4.0">)</tspan></text></g>
<g><rect x="32.72" y="453.93" width="11.32" height="63.47" fill="url(#gy)"/><rect x="55.36" y="473.88" width="11.32" height="43.52" fill="url(#gy)"/><rect x="89.31" y="392.28" width="11.32" height="125.12" fill="url(#gy)"/><rect x="100.63" y="502.89" width="11.32" height="14.51" fill="url(#gy)"/><rect x="111.95" y="473.88" width="11.32" height="43.52" fill="url(#gy)"/><rect x="134.59" y="510.15" width="11.32" height="7.25" fill="url(#gy)"/><rect x="145.91" y="510.15" width="11.32" height="7.25" fill="url(#gy)"/><rect x="191.18" y="510.15" width="11.32" height="7.25" fill="url(#gy)"/><rect x="32.72" y="453.93" width="11.32" height="63.47" fill="none" stroke="#5aec5a" stroke-width="0.8" stroke-dasharray="2 1.2"/><rect x="55.36" y="473.88" width="11.32" height="43.52" fill="none" stroke="#5aec5a" stroke-width="0.8" stroke-dasharray="2 1.2"/><rect x="89.31" y="392.28" width="11.32" height="125.12" fill="none" stroke="#5aec5a" stroke-width="0.8" stroke-dasharray="2 1.2"/><rect x="100.63" y="502.89" width="11.32" height="14.51" fill="none" stroke="#5aec5a" stroke-width="0.8" stroke-dasharray="2 1.2"/><rect x="111.95" y="473.88" width="11.32" height="43.52" fill="none" stroke="#5aec5a" stroke-width="0.8" stroke-dasharray="2 1.2"/><rect x="134.59" y="510.15" width="11.32" height="7.25" fill="none" stroke="#5aec5a" stroke-width="0.8" stroke-dasharray="2 1.2"/><rect x="145.91" y="510.15" width="11.32" height="7.25" fill="none" stroke="#5aec5a" stroke-width="0.8" stroke-dasharray="2 1.2"/><rect x="191.18" y="510.15" width="11.32" height="7.25" fill="none" stroke="#5aec5a" stroke-width="0.8" stroke-dasharray="2 1.2"/><polyline points="21.40,489.96 22.28,488.75 23.15,487.50 24.03,486.22 24.90,484.91 25.78,483.56 26.65,482.17 27.53,480.76 28.41,479.31 29.28,477.83 30.16,476.31 31.03,474.77 31.91,473.19 32.79,471.58 33.66,469.95 34.54,468.28 35.41,466.59 36.29,464.88 37.16,463.14 38.04,461.38 38.92,459.60 39.79,457.79 40.67,455.97 41.54,454.14 42.42,452.28 43.29,450.42 44.17,448.55 45.05,446.67 45.92,444.78 46.80,442.88 47.67,440.99 48.55,439.10 49.43,437.21 50.30,435.32 51.18,433.45 52.05,431.58 52.93,429.73 53.80,427.89 54.68,426.07 55.56,424.27 56.43,422.50 57.31,420.75 58.18,419.03 59.06,417.35 59.93,415.69 60.81,414.08 61.69,412.50 62.56,410.97 63.44,409.48 64.31,408.04 65.19,406.65 66.07,405.31 66.94,404.03 67.82,402.80 68.69,401.63 69.57,400.52 70.44,399.48 71.32,398.50 72.20,397.58 73.07,396.74 73.95,395.96 74.82,395.26 75.70,394.62 76.57,394.06 77.45,393.58 78.33,393.17 79.20,392.84 80.08,392.58 80.95,392.40 81.83,392.30 82.71,392.28 83.58,392.34 84.46,392.47 85.33,392.68 86.21,392.97 87.08,393.33 87.96,393.77 88.84,394.29 89.71,394.88 90.59,395.54 91.46,396.28 92.34,397.08 93.21,397.96 94.09,398.90 94.97,399.91 95.84,400.98 96.72,402.11 97.59,403.31 98.47,404.56 99.35,405.87 100.22,407.23 101.10,408.64 101.97,410.10 102.85,411.61 103.72,413.16 104.60,414.75 105.48,416.38 106.35,418.05 107.23,419.75 108.10,421.48 108.98,423.24 109.85,425.02 110.73,426.83 111.61,428.66 112.48,430.50 113.36,432.36 114.23,434.23 115.11,436.11 115.99,438.00 116.86,439.89 117.74,441.79 118.61,443.68 119.49,445.57 120.36,447.46 121.24,449.34 122.12,451.21 122.99,453.06 123.87,454.91 124.74,456.74 125.62,458.55 126.49,460.35 127.37,462.12 128.25,463.87 129.12,465.60 130.00,467.31 130.87,468.99 131.75,470.64 132.63,472.26 133.50,473.85 134.38,475.42 135.25,476.95 136.13,478.45 137.00,479.92 137.88,481.36 138.76,482.76 139.63,484.13 140.51,485.46 141.38,486.76 142.26,488.03 143.13,489.26 144.01,490.46 144.89,491.62 145.76,492.74 146.64,493.83 147.51,494.89 148.39,495.92 149.27,496.91 150.14,497.86 151.02,498.79 151.89,499.68 152.77,500.54 153.64,501.36 154.52,502.16 155.40,502.92 156.27,503.66 157.15,504.37 158.02,505.04 158.90,505.69 159.77,506.32 160.65,506.91 161.53,507.48 162.40,508.03 163.28,508.55 164.15,509.04 165.03,509.52 165.91,509.97 166.78,510.40 167.66,510.81 168.53,511.20 169.41,511.57 170.28,511.92 171.16,512.25 172.04,512.57 172.91,512.87 173.79,513.15 174.66,513.42 175.54,513.67 176.41,513.91 177.29,514.14 178.17,514.35 179.04,514.55 179.92,514.74 180.79,514.92 181.67,515.09 182.55,515.25 183.42,515.40 184.30,515.54 185.17,515.67 186.05,515.79 186.92,515.90 187.80,516.01 188.68,516.11 189.55,516.21 190.43,516.29 191.30,516.38 192.18,516.45 193.05,516.52 193.93,516.59 194.81,516.65 195.68,516.71 196.56,516.76" fill="none" stroke="#ff2a2a" stroke-width="1.15" stroke-dasharray="3.8 2.6"/><path d="M21.40 381.40H202.50V517.40" fill="none" stroke="#5c5c5c" stroke-width="1"/><path d="M21.40 381.40V517.40H202.50" fill="none" stroke="#5c5c5c" stroke-width="1"/><path d="M32.72 517.40v2.5M61.02 517.40v2.5M89.31 517.40v2.5M117.61 517.40v2.5M145.91 517.40v2.5M174.20 517.40v2.5M202.50 517.40v2.5M46.87 517.40v1.3M75.16 517.40v1.3M103.46 517.40v1.3M131.76 517.40v1.3M160.05 517.40v1.3M188.35 517.40v1.3M21.40 517.40h-2.5M21.40 499.27h-2.5M21.40 481.13h-2.5M21.40 463.00h-2.5M21.40 444.87h-2.5M21.40 426.73h-2.5M21.40 408.60h-2.5M21.40 390.47h-2.5M21.40 508.33h-1.3M21.40 490.20h-1.3M21.40 472.07h-1.3M21.40 453.93h-1.3M21.40 435.80h-1.3M21.40 417.67h-1.3M21.40 399.53h-1.3M21.40 381.40h-1.3" stroke="#5c5c5c" stroke-width="1"/><text x="32.72" y="526.80" text-anchor="middle" class="t">0.40</text><text x="61.02" y="526.80" text-anchor="middle" class="t">0.45</text><text x="89.31" y="526.80" text-anchor="middle" class="t">0.50</text><text x="117.61" y="526.80" text-anchor="middle" class="t">0.55</text><text x="145.91" y="526.80" text-anchor="middle" class="t">0.60</text><text x="174.20" y="526.80" text-anchor="middle" class="t">0.65</text><text x="202.50" y="526.80" text-anchor="middle" class="t">0.70</text><text x="17.80" y="519.70" text-anchor="end" class="t">0</text><text x="17.80" y="501.57" text-anchor="end" class="t">10</text><text x="17.80" y="483.43" text-anchor="end" class="t">20</text><text x="17.80" y="465.30" text-anchor="end" class="t">30</text><text x="17.80" y="447.17" text-anchor="end" class="t">40</text><text x="17.80" y="429.03" text-anchor="end" class="t">50</text><text x="17.80" y="410.90" text-anchor="end" class="t">60</text><text x="17.80" y="392.77" text-anchor="end" class="t">70</text><text x="6.70" y="449.40" text-anchor="middle" class="ti" transform="rotate(-90 6.70 449.40)">Count</text><text x="111.95" y="539.60" text-anchor="middle" class="ti">w/c</text></g>
<g><rect x="272.33" y="392.28" width="13.93" height="125.12" fill="url(#gy)"/><rect x="286.26" y="481.13" width="13.93" height="36.27" fill="url(#gy)"/><rect x="314.12" y="403.16" width="13.93" height="114.24" fill="url(#gy)"/><rect x="397.71" y="508.33" width="13.93" height="9.07" fill="url(#gy)"/><rect x="425.57" y="490.20" width="13.93" height="27.20" fill="url(#gy)"/><rect x="272.33" y="392.28" width="13.93" height="125.12" fill="none" stroke="#5aec5a" stroke-width="0.8" stroke-dasharray="2 1.2"/><rect x="286.26" y="481.13" width="13.93" height="36.27" fill="none" stroke="#5aec5a" stroke-width="0.8" stroke-dasharray="2 1.2"/><rect x="314.12" y="403.16" width="13.93" height="114.24" fill="none" stroke="#5aec5a" stroke-width="0.8" stroke-dasharray="2 1.2"/><rect x="397.71" y="508.33" width="13.93" height="9.07" fill="none" stroke="#5aec5a" stroke-width="0.8" stroke-dasharray="2 1.2"/><rect x="425.57" y="490.20" width="13.93" height="27.20" fill="none" stroke="#5aec5a" stroke-width="0.8" stroke-dasharray="2 1.2"/><polyline points="258.40,446.30 259.31,444.89 260.21,443.47 261.12,442.06 262.02,440.64 262.93,439.22 263.83,437.81 264.74,436.39 265.64,434.99 266.55,433.58 267.45,432.18 268.36,430.79 269.27,429.41 270.17,428.03 271.08,426.67 271.98,425.32 272.89,423.98 273.79,422.65 274.70,421.34 275.60,420.04 276.51,418.76 277.42,417.50 278.32,416.26 279.23,415.04 280.13,413.84 281.04,412.66 281.94,411.50 282.85,410.37 283.75,409.27 284.66,408.19 285.56,407.14 286.47,406.12 287.38,405.13 288.28,404.17 289.19,403.24 290.09,402.34 291.00,401.48 291.90,400.65 292.81,399.86 293.71,399.10 294.62,398.38 295.53,397.69 296.43,397.05 297.34,396.44 298.24,395.87 299.15,395.34 300.05,394.86 300.96,394.41 301.86,394.01 302.77,393.64 303.67,393.32 304.58,393.04 305.49,392.81 306.39,392.62 307.30,392.47 308.20,392.36 309.11,392.30 310.01,392.28 310.92,392.31 311.82,392.37 312.73,392.49 313.64,392.64 314.54,392.84 315.45,393.08 316.35,393.37 317.26,393.70 318.16,394.07 319.07,394.48 319.97,394.93 320.88,395.42 321.78,395.96 322.69,396.53 323.60,397.14 324.50,397.80 325.41,398.49 326.31,399.21 327.22,399.98 328.12,400.78 329.03,401.61 329.93,402.48 330.84,403.38 331.75,404.31 332.65,405.28 333.56,406.28 334.46,407.30 335.37,408.35 336.27,409.44 337.18,410.54 338.08,411.68 338.99,412.84 339.89,414.02 340.80,415.22 341.71,416.45 342.61,417.69 343.52,418.96 344.42,420.24 345.33,421.54 346.23,422.85 347.14,424.18 348.04,425.52 348.95,426.88 349.86,428.24 350.76,429.62 351.67,431.01 352.57,432.40 353.48,433.80 354.38,435.20 355.29,436.61 356.19,438.02 357.10,439.44 358.00,440.86 358.91,442.27 359.82,443.69 360.72,445.11 361.63,446.52 362.53,447.93 363.44,449.33 364.34,450.73 365.25,452.13 366.15,453.52 367.06,454.90 367.97,456.27 368.87,457.63 369.78,458.98 370.68,460.32 371.59,461.65 372.49,462.97 373.40,464.27 374.30,465.57 375.21,466.85 376.12,468.11 377.02,469.36 377.93,470.59 378.83,471.81 379.74,473.01 380.64,474.20 381.55,475.37 382.45,476.52 383.36,477.65 384.26,478.77 385.17,479.86 386.08,480.94 386.98,482.00 387.89,483.04 388.79,484.06 389.70,485.07 390.60,486.05 391.51,487.02 392.41,487.96 393.32,488.89 394.23,489.79 395.13,490.68 396.04,491.55 396.94,492.39 397.85,493.22 398.75,494.03 399.66,494.82 400.56,495.59 401.47,496.35 402.37,497.08 403.28,497.79 404.19,498.49 405.09,499.17 406.00,499.83 406.90,500.47 407.81,501.09 408.71,501.70 409.62,502.29 410.52,502.86 411.43,503.41 412.34,503.95 413.24,504.47 414.15,504.98 415.05,505.47 415.96,505.95 416.86,506.41 417.77,506.85 418.67,507.28 419.58,507.70 420.48,508.10 421.39,508.49 422.30,508.87 423.20,509.23 424.11,509.58 425.01,509.92 425.92,510.24 426.82,510.56 427.73,510.86 428.63,511.15 429.54,511.43 430.44,511.70 431.35,511.96 432.26,512.21 433.16,512.45 434.07,512.68 434.97,512.90 435.88,513.11 436.78,513.32 437.69,513.51 438.59,513.70 439.50,513.88" fill="none" stroke="#ff2a2a" stroke-width="1.15" stroke-dasharray="3.8 2.6"/><path d="M258.40 381.40H439.50V517.40" fill="none" stroke="#5c5c5c" stroke-width="1"/><path d="M258.40 381.40V517.40H439.50" fill="none" stroke="#5c5c5c" stroke-width="1"/><path d="M272.33 517.40v2.5M300.19 517.40v2.5M328.05 517.40v2.5M355.92 517.40v2.5M383.78 517.40v2.5M411.64 517.40v2.5M439.50 517.40v2.5M286.26 517.40v1.3M314.12 517.40v1.3M341.98 517.40v1.3M369.85 517.40v1.3M397.71 517.40v1.3M425.57 517.40v1.3M258.40 517.40h-2.5M258.40 499.27h-2.5M258.40 481.13h-2.5M258.40 463.00h-2.5M258.40 444.87h-2.5M258.40 426.73h-2.5M258.40 408.60h-2.5M258.40 390.47h-2.5M258.40 508.33h-1.3M258.40 490.20h-1.3M258.40 472.07h-1.3M258.40 453.93h-1.3M258.40 435.80h-1.3M258.40 417.67h-1.3M258.40 399.53h-1.3M258.40 381.40h-1.3" stroke="#5c5c5c" stroke-width="1"/><text x="272.33" y="526.80" text-anchor="middle" class="t">0</text><text x="300.19" y="526.80" text-anchor="middle" class="t">1</text><text x="328.05" y="526.80" text-anchor="middle" class="t">2</text><text x="355.92" y="526.80" text-anchor="middle" class="t">3</text><text x="383.78" y="526.80" text-anchor="middle" class="t">4</text><text x="411.64" y="526.80" text-anchor="middle" class="t">5</text><text x="439.50" y="526.80" text-anchor="middle" class="t">6</text><text x="254.80" y="519.70" text-anchor="end" class="t">0</text><text x="254.80" y="501.57" text-anchor="end" class="t">10</text><text x="254.80" y="483.43" text-anchor="end" class="t">20</text><text x="254.80" y="465.30" text-anchor="end" class="t">30</text><text x="254.80" y="447.17" text-anchor="end" class="t">40</text><text x="254.80" y="429.03" text-anchor="end" class="t">50</text><text x="254.80" y="410.90" text-anchor="end" class="t">60</text><text x="254.80" y="392.77" text-anchor="end" class="t">70</text><text x="243.70" y="449.40" text-anchor="middle" class="ti" transform="rotate(-90 243.70 449.40)">Count</text><text x="348.95" y="540.50" text-anchor="middle" class="ti">SP (Kg/m<tspan font-size="6" dy="-4.0">3</tspan><tspan dy="4.0">)</tspan></text></g>
<g><rect x="495.80" y="403.16" width="22.65" height="114.24" fill="url(#gy)"/><rect x="518.45" y="448.04" width="22.65" height="69.36" fill="url(#gy)"/><rect x="563.75" y="495.64" width="22.65" height="21.76" fill="url(#gy)"/><rect x="654.35" y="488.84" width="22.65" height="28.56" fill="url(#gy)"/><rect x="495.80" y="403.16" width="22.65" height="114.24" fill="none" stroke="#5aec5a" stroke-width="0.8" stroke-dasharray="2 1.2"/><rect x="518.45" y="448.04" width="22.65" height="69.36" fill="none" stroke="#5aec5a" stroke-width="0.8" stroke-dasharray="2 1.2"/><rect x="563.75" y="495.64" width="22.65" height="21.76" fill="none" stroke="#5aec5a" stroke-width="0.8" stroke-dasharray="2 1.2"/><rect x="654.35" y="488.84" width="22.65" height="28.56" fill="none" stroke="#5aec5a" stroke-width="0.8" stroke-dasharray="2 1.2"/><polyline points="495.80,437.77 496.71,436.57 497.61,435.39 498.52,434.21 499.42,433.04 500.33,431.88 501.24,430.74 502.14,429.60 503.05,428.48 503.95,427.38 504.86,426.28 505.77,425.21 506.67,424.15 507.58,423.10 508.48,422.08 509.39,421.07 510.30,420.09 511.20,419.12 512.11,418.18 513.01,417.26 513.92,416.36 514.83,415.49 515.73,414.64 516.64,413.81 517.54,413.02 518.45,412.24 519.36,411.50 520.26,410.78 521.17,410.10 522.07,409.44 522.98,408.81 523.89,408.22 524.79,407.65 525.70,407.12 526.60,406.61 527.51,406.14 528.42,405.71 529.32,405.30 530.23,404.94 531.13,404.60 532.04,404.30 532.95,404.03 533.85,403.80 534.76,403.61 535.66,403.45 536.57,403.32 537.48,403.23 538.38,403.18 539.29,403.16 540.19,403.18 541.10,403.23 542.01,403.32 542.91,403.45 543.82,403.61 544.72,403.80 545.63,404.03 546.54,404.30 547.44,404.60 548.35,404.94 549.25,405.30 550.16,405.71 551.07,406.14 551.97,406.61 552.88,407.12 553.78,407.65 554.69,408.22 555.60,408.81 556.50,409.44 557.41,410.10 558.31,410.78 559.22,411.50 560.13,412.24 561.03,413.02 561.94,413.81 562.84,414.64 563.75,415.49 564.66,416.36 565.56,417.26 566.47,418.18 567.37,419.12 568.28,420.09 569.19,421.07 570.09,422.08 571.00,423.10 571.90,424.15 572.81,425.21 573.72,426.28 574.62,427.38 575.53,428.48 576.43,429.60 577.34,430.74 578.25,431.88 579.15,433.04 580.06,434.21 580.96,435.39 581.87,436.57 582.78,437.77 583.68,438.97 584.59,440.17 585.49,441.39 586.40,442.60 587.31,443.82 588.21,445.05 589.12,446.27 590.02,447.50 590.93,448.72 591.84,449.95 592.74,451.17 593.65,452.40 594.55,453.62 595.46,454.83 596.37,456.05 597.27,457.26 598.18,458.46 599.08,459.66 599.99,460.85 600.90,462.03 601.80,463.20 602.71,464.37 603.61,465.53 604.52,466.68 605.43,467.82 606.33,468.95 607.24,470.06 608.14,471.17 609.05,472.27 609.96,473.35 610.86,474.42 611.77,475.48 612.67,476.52 613.58,477.55 614.49,478.57 615.39,479.57 616.30,480.56 617.20,481.53 618.11,482.49 619.02,483.43 619.92,484.36 620.83,485.28 621.73,486.17 622.64,487.06 623.55,487.92 624.45,488.77 625.36,489.61 626.26,490.43 627.17,491.23 628.08,492.02 628.98,492.79 629.89,493.54 630.79,494.28 631.70,495.01 632.61,495.71 633.51,496.41 634.42,497.08 635.32,497.74 636.23,498.39 637.14,499.02 638.04,499.63 638.95,500.23 639.85,500.82 640.76,501.38 641.67,501.94 642.57,502.48 643.48,503.01 644.38,503.52 645.29,504.01 646.20,504.50 647.10,504.97 648.01,505.42 648.91,505.87 649.82,506.30 650.73,506.72 651.63,507.12 652.54,507.52 653.44,507.90 654.35,508.27 655.26,508.62 656.16,508.97 657.07,509.30 657.97,509.63 658.88,509.94 659.79,510.25 660.69,510.54 661.60,510.82 662.50,511.10 663.41,511.36 664.32,511.61 665.22,511.86 666.13,512.10 667.03,512.32 667.94,512.54 668.85,512.76 669.75,512.96 670.66,513.16 671.56,513.35 672.47,513.53 673.38,513.70 674.28,513.87 675.19,514.03 676.09,514.19 677.00,514.34" fill="none" stroke="#ff2a2a" stroke-width="1.15" stroke-dasharray="3.8 2.6"/><path d="M495.80 381.40H677.00V517.40" fill="none" stroke="#5c5c5c" stroke-width="1"/><path d="M495.80 381.40V517.40H677.00" fill="none" stroke="#5c5c5c" stroke-width="1"/><path d="M495.80 517.40v2.5M518.45 517.40v2.5M541.10 517.40v2.5M563.75 517.40v2.5M586.40 517.40v2.5M609.05 517.40v2.5M631.70 517.40v2.5M654.35 517.40v2.5M677.00 517.40v2.5M507.12 517.40v1.3M529.77 517.40v1.3M552.42 517.40v1.3M575.08 517.40v1.3M597.73 517.40v1.3M620.38 517.40v1.3M643.02 517.40v1.3M665.67 517.40v1.3M495.80 517.40h-2.5M495.80 490.20h-2.5M495.80 463.00h-2.5M495.80 435.80h-2.5M495.80 408.60h-2.5M495.80 381.40h-2.5M495.80 503.80h-1.3M495.80 476.60h-1.3M495.80 449.40h-1.3M495.80 422.20h-1.3M495.80 395.00h-1.3" stroke="#5c5c5c" stroke-width="1"/><text x="495.80" y="526.80" text-anchor="middle" class="t">0</text><text x="518.45" y="526.80" text-anchor="middle" class="t">50</text><text x="541.10" y="526.80" text-anchor="middle" class="t">100</text><text x="563.75" y="526.80" text-anchor="middle" class="t">150</text><text x="586.40" y="526.80" text-anchor="middle" class="t">200</text><text x="609.05" y="526.80" text-anchor="middle" class="t">250</text><text x="631.70" y="526.80" text-anchor="middle" class="t">300</text><text x="654.35" y="526.80" text-anchor="middle" class="t">350</text><text x="677.00" y="526.80" text-anchor="middle" class="t">400</text><text x="492.20" y="519.70" text-anchor="end" class="t">0</text><text x="492.20" y="492.50" text-anchor="end" class="t">20</text><text x="492.20" y="465.30" text-anchor="end" class="t">40</text><text x="492.20" y="438.10" text-anchor="end" class="t">60</text><text x="492.20" y="410.90" text-anchor="end" class="t">80</text><text x="492.20" y="383.70" text-anchor="end" class="t">100</text><text x="477.20" y="449.40" text-anchor="middle" class="ti" transform="rotate(-90 477.20 449.40)">Count</text><text x="586.40" y="539.70" text-anchor="middle" class="ti">Curing Days</text></g>
<g><rect x="21.40" y="699.84" width="16.46" height="6.76" fill="url(#gy)"/><rect x="37.86" y="666.01" width="16.46" height="40.59" fill="url(#gy)"/><rect x="54.33" y="655.86" width="16.46" height="50.74" fill="url(#gy)"/><rect x="70.79" y="632.18" width="16.46" height="74.42" fill="url(#gy)"/><rect x="87.25" y="584.83" width="16.46" height="121.77" fill="url(#gy)"/><rect x="103.72" y="611.89" width="16.46" height="94.71" fill="url(#gy)"/><rect x="120.18" y="622.04" width="16.46" height="84.56" fill="url(#gy)"/><rect x="136.65" y="655.86" width="16.46" height="50.74" fill="url(#gy)"/><rect x="153.11" y="682.92" width="16.46" height="23.68" fill="url(#gy)"/><rect x="169.57" y="682.92" width="16.46" height="23.68" fill="url(#gy)"/><rect x="186.04" y="696.45" width="16.46" height="10.15" fill="url(#gy)"/><rect x="21.40" y="699.84" width="16.46" height="6.76" fill="none" stroke="#5aec5a" stroke-width="0.8" stroke-dasharray="2 1.2"/><rect x="37.86" y="666.01" width="16.46" height="40.59" fill="none" stroke="#5aec5a" stroke-width="0.8" stroke-dasharray="2 1.2"/><rect x="54.33" y="655.86" width="16.46" height="50.74" fill="none" stroke="#5aec5a" stroke-width="0.8" stroke-dasharray="2 1.2"/><rect x="70.79" y="632.18" width="16.46" height="74.42" fill="none" stroke="#5aec5a" stroke-width="0.8" stroke-dasharray="2 1.2"/><rect x="87.25" y="584.83" width="16.46" height="121.77" fill="none" stroke="#5aec5a" stroke-width="0.8" stroke-dasharray="2 1.2"/><rect x="103.72" y="611.89" width="16.46" height="94.71" fill="none" stroke="#5aec5a" stroke-width="0.8" stroke-dasharray="2 1.2"/><rect x="120.18" y="622.04" width="16.46" height="84.56" fill="none" stroke="#5aec5a" stroke-width="0.8" stroke-dasharray="2 1.2"/><rect x="136.65" y="655.86" width="16.46" height="50.74" fill="none" stroke="#5aec5a" stroke-width="0.8" stroke-dasharray="2 1.2"/><rect x="153.11" y="682.92" width="16.46" height="23.68" fill="none" stroke="#5aec5a" stroke-width="0.8" stroke-dasharray="2 1.2"/><rect x="169.57" y="682.92" width="16.46" height="23.68" fill="none" stroke="#5aec5a" stroke-width="0.8" stroke-dasharray="2 1.2"/><rect x="186.04" y="696.45" width="16.46" height="10.15" fill="none" stroke="#5aec5a" stroke-width="0.8" stroke-dasharray="2 1.2"/><polyline points="21.40,698.77 22.31,698.29 23.21,697.79 24.12,697.26 25.02,696.71 25.93,696.13 26.83,695.53 27.74,694.90 28.64,694.24 29.55,693.55 30.45,692.83 31.36,692.09 32.27,691.31 33.17,690.50 34.08,689.66 34.98,688.78 35.89,687.88 36.79,686.94 37.70,685.97 38.60,684.96 39.51,683.92 40.42,682.84 41.32,681.73 42.23,680.58 43.13,679.40 44.04,678.19 44.94,676.93 45.85,675.65 46.75,674.33 47.66,672.97 48.56,671.58 49.47,670.15 50.38,668.70 51.28,667.20 52.19,665.68 53.09,664.13 54.00,662.54 54.90,660.93 55.81,659.29 56.71,657.62 57.62,655.92 58.53,654.20 59.43,652.45 60.34,650.69 61.24,648.90 62.15,647.10 63.05,645.28 63.96,643.44 64.86,641.59 65.77,639.73 66.67,637.86 67.58,635.99 68.49,634.11 69.39,632.23 70.30,630.35 71.20,628.47 72.11,626.60 73.01,624.74 73.92,622.89 74.82,621.05 75.73,619.23 76.64,617.43 77.54,615.64 78.45,613.89 79.35,612.16 80.26,610.46 81.16,608.79 82.07,607.16 82.97,605.57 83.88,604.02 84.78,602.51 85.69,601.05 86.60,599.64 87.50,598.28 88.41,596.97 89.31,595.72 90.22,594.53 91.12,593.40 92.03,592.33 92.93,591.32 93.84,590.38 94.75,589.51 95.65,588.71 96.56,587.99 97.46,587.33 98.37,586.75 99.27,586.24 100.18,585.81 101.08,585.46 101.99,585.18 102.90,584.99 103.80,584.87 104.71,584.83 105.61,584.87 106.52,584.99 107.42,585.18 108.33,585.46 109.23,585.81 110.14,586.24 111.04,586.75 111.95,587.33 112.86,587.99 113.76,588.71 114.67,589.51 115.57,590.38 116.48,591.32 117.38,592.33 118.29,593.40 119.19,594.53 120.10,595.72 121.00,596.97 121.91,598.28 122.82,599.64 123.72,601.05 124.63,602.51 125.53,604.02 126.44,605.57 127.34,607.16 128.25,608.79 129.15,610.46 130.06,612.16 130.97,613.89 131.87,615.64 132.78,617.43 133.68,619.23 134.59,621.05 135.49,622.89 136.40,624.74 137.30,626.60 138.21,628.47 139.12,630.35 140.02,632.23 140.93,634.11 141.83,635.99 142.74,637.86 143.64,639.73 144.55,641.59 145.45,643.44 146.36,645.28 147.26,647.10 148.17,648.90 149.08,650.69 149.98,652.45 150.89,654.20 151.79,655.92 152.70,657.62 153.60,659.29 154.51,660.93 155.41,662.54 156.32,664.13 157.22,665.68 158.13,667.20 159.04,668.70 159.94,670.15 160.85,671.58 161.75,672.97 162.66,674.33 163.56,675.65 164.47,676.93 165.37,678.19 166.28,679.40 167.19,680.58 168.09,681.73 169.00,682.84 169.90,683.92 170.81,684.96 171.71,685.97 172.62,686.94 173.52,687.88 174.43,688.78 175.34,689.66 176.24,690.50 177.15,691.31 178.05,692.09 178.96,692.83 179.86,693.55 180.77,694.24 181.67,694.90 182.58,695.53 183.48,696.13 184.39,696.71 185.30,697.26 186.20,697.79 187.11,698.29 188.01,698.77 188.92,699.22 189.82,699.66 190.73,700.07 191.63,700.46 192.54,700.83 193.44,701.19 194.35,701.52 195.26,701.84 196.16,702.14 197.07,702.42 197.97,702.69 198.88,702.95 199.78,703.19 200.69,703.41 201.59,703.62 202.50,703.82" fill="none" stroke="#ff2a2a" stroke-width="1.15" stroke-dasharray="3.8 2.6"/><path d="M21.40 571.30H202.50V706.60" fill="none" stroke="#5c5c5c" stroke-width="1"/><path d="M21.40 571.30V706.60H202.50" fill="none" stroke="#5c5c5c" stroke-width="1"/><path d="M21.40 706.60v2.5M54.33 706.60v2.5M87.25 706.60v2.5M120.18 706.60v2.5M153.11 706.60v2.5M186.04 706.60v2.5M37.86 706.60v1.3M70.79 706.60v1.3M103.72 706.60v1.3M136.65 706.60v1.3M169.57 706.60v1.3M202.50 706.60v1.3M21.40 706.60h-2.5M21.40 689.69h-2.5M21.40 672.77h-2.5M21.40 655.86h-2.5M21.40 638.95h-2.5M21.40 622.04h-2.5M21.40 605.12h-2.5M21.40 588.21h-2.5M21.40 571.30h-2.5M21.40 698.14h-1.3M21.40 681.23h-1.3M21.40 664.32h-1.3M21.40 647.41h-1.3M21.40 630.49h-1.3M21.40 613.58h-1.3M21.40 596.67h-1.3M21.40 579.76h-1.3" stroke="#5c5c5c" stroke-width="1"/><text x="21.40" y="715.60" text-anchor="middle" class="t">10</text><text x="54.33" y="715.60" text-anchor="middle" class="t">20</text><text x="87.25" y="715.60" text-anchor="middle" class="t">30</text><text x="120.18" y="715.60" text-anchor="middle" class="t">40</text><text x="153.11" y="715.60" text-anchor="middle" class="t">50</text><text x="186.04" y="715.60" text-anchor="middle" class="t">60</text><text x="17.80" y="708.90" text-anchor="end" class="t">0</text><text x="17.80" y="691.99" text-anchor="end" class="t">5</text><text x="17.80" y="675.07" text-anchor="end" class="t">10</text><text x="17.80" y="658.16" text-anchor="end" class="t">15</text><text x="17.80" y="641.25" text-anchor="end" class="t">20</text><text x="17.80" y="624.34" text-anchor="end" class="t">25</text><text x="17.80" y="607.42" text-anchor="end" class="t">30</text><text x="17.80" y="590.51" text-anchor="end" class="t">35</text><text x="17.80" y="573.60" text-anchor="end" class="t">40</text><text x="6.70" y="638.95" text-anchor="middle" class="ti" transform="rotate(-90 6.70 638.95)">Count</text><text x="111.95" y="728.40" text-anchor="middle" class="ti">CS (MPa)</text></g>
</svg>
</body></html>
